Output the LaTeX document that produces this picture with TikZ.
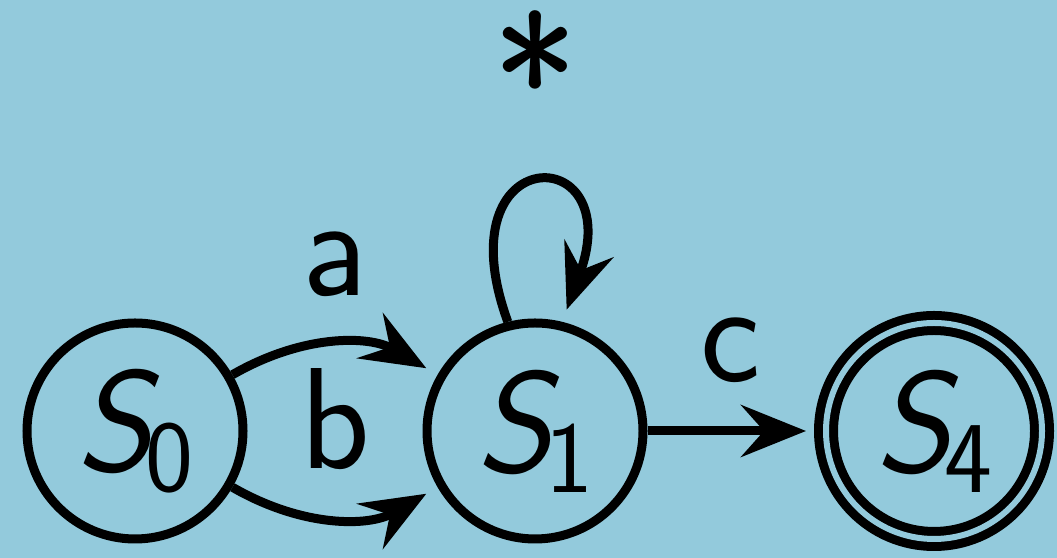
\documentclass[tikz,border=0pt]{standalone}
\usepackage{fontspec}
\usetikzlibrary{arrows.meta}
\definecolor{bg}{HTML}{93CADC}
\newcommand{\stname}[1]{{\sffamily\slshape S}\kern-0.06cm\raisebox{-0.2cm}{\fontsize{29}{30}\selectfont\sffamily #1}}
\begin{document}
\begin{tikzpicture}[
  x=1cm,y=1cm,
  every node/.append style={font=\fontsize{41}{48}\selectfont\sffamily},
  stnode/.style={circle, draw, line width=0.09cm, minimum size=2.16cm, inner sep=0pt},
  accnode/.style={stnode, double=bg, double distance=0.06cm, outer sep=0.12cm},
  arr/.style={line width=0.09cm, -{Stealth[length=0.65cm,width=0.52cm,inset=0.23cm]}, shorten >=0.13cm},
  lbl/.style={anchor=base, yshift=0.49cm}
]
\useasboundingbox (0,0) rectangle (10.57,5.58);
\fill[bg] (0,0) rectangle (10.57,5.58);
\node[stnode] (s0) at (1.35,1.27) {\stname{0}};
\node[stnode] (s1) at (5.35,1.27) {\stname{1}};
\node[accnode] (s4) at (9.34,1.27) {\stname{4}};
\draw[arr] (s0) to[bend left=30] node[lbl] {a} (s1);
\draw[arr] (s0) to[bend right=30] node[lbl] {b} (s1);
\draw[arr, shorten >=0.08cm] (s1) -- node[lbl] {c} (s4);
\draw[arr] (s1.104) .. controls +(110:1.95) and +(70:1.95) .. node[lbl, yshift=-0.12cm, font=\fontsize{52}{60}\selectfont\sffamily] {*} (s1.76);
\end{tikzpicture}
\end{document}
